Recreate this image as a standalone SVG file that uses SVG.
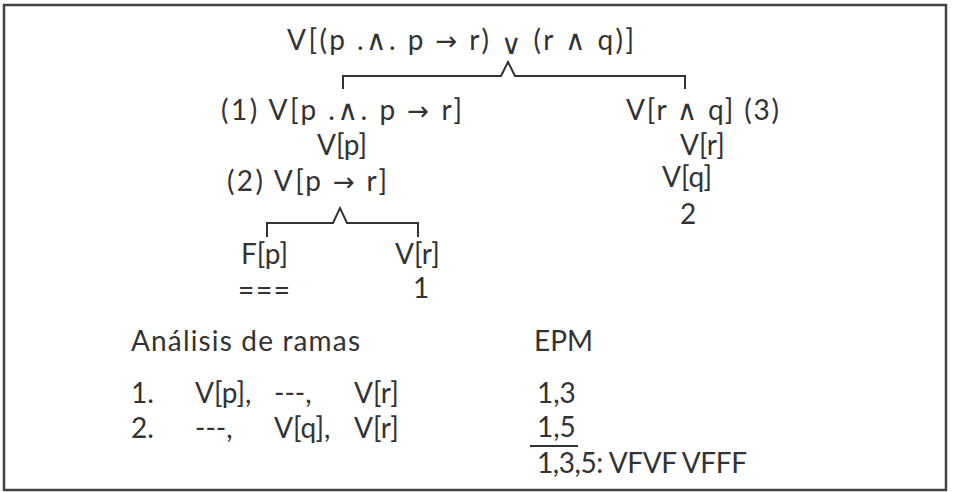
<svg xmlns="http://www.w3.org/2000/svg" width="956" height="492" viewBox="0 0 956 492">
<style>
  text { font-family: "Lato", "Liberation Sans", sans-serif; font-size: 28px; fill: #333; }
  .sym { font-family: "DejaVu Sans", sans-serif; font-size: 28px; font-weight: normal; }
  .arr { font-family: "DejaVu Sans", sans-serif; font-size: 26px; }
  .br { fill: none; stroke: #333; stroke-width: 2; }
</style>
<rect x="0" y="0" width="956" height="492" fill="#fff"/>
<rect x="4" y="5" width="942" height="485" fill="none" stroke="#444" stroke-width="2.5"/>
<g id="connectors">
  <path class="br" d="M343,89 V76 H501 L508,62 L515,76 H685 V89"/>
  <path class="br" d="M267,237 V223 H333 L340,208 L347,223 H418 V237"/>
  <path class="br" d="M530,446 H578"/>
</g>
<g id="n-root"><text x="287" y="50" textLength="347">V[(p .<tspan class="sym">∧</tspan>. p <tspan class="arr">→</tspan> r) <tspan class="sym" dy="4">∨</tspan><tspan dy="-4"> (r </tspan><tspan class="sym">∧</tspan> q)]</text></g>
<g id="n-1"><text x="221" y="120" textLength="241">(1) V[p .<tspan class="sym">∧</tspan>. p <tspan class="arr">→</tspan> r]</text></g>
<g id="n-3"><text x="626" y="120" textLength="153">V[r <tspan class="sym">∧</tspan> q] (3)</text></g>
<g id="n-vp"><text x="317" y="155">V[p]</text></g>
<g id="n-vr1"><text x="680" y="155">V[r]</text></g>
<g id="n-2"><text x="227" y="191" textLength="160">(2) V[p <tspan class="arr">→</tspan> r]</text></g>
<g id="n-vq"><text x="662" y="187">V[q]</text></g>
<g id="n-two"><text x="680" y="224">2</text></g>
<g id="n-fp"><text x="241" y="264">F[p]</text></g>
<g id="n-vr2"><text x="395" y="264">V[r]</text></g>
<g id="n-eq"><text x="238" y="300" textLength="52">===</text></g>
<g id="n-one"><text x="413" y="298">1</text></g>
<g id="analysis">
  <text x="131" y="351" textLength="229">Análisis de ramas</text>
  <text x="534" y="351">EPM</text>
  <text x="131" y="403">1.</text>
  <text x="195" y="403">V[p],</text>
  <text x="274" y="403">---,</text>
  <text x="354" y="403">V[r]</text>
  <text x="131" y="438">2.</text>
  <text x="195" y="438">---,</text>
  <text x="274" y="438">V[q],</text>
  <text x="354" y="438">V[r]</text>
  <text x="537" y="403">1,3</text>
  <text x="537" y="437">1,5</text>
  <text x="537" y="473" textLength="210">1,3,5: VFVF VFFF</text>
</g>
</svg>
